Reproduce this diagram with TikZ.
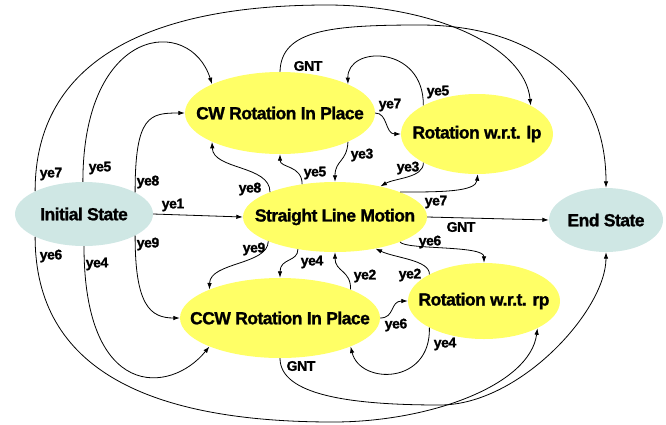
\documentclass[tikz,border=0pt]{standalone}
\usepackage{fontspec}
\setmainfont{Liberation Sans}
\newfontfamily\diagfont[LetterSpace=-3, BoldFeatures={FakeBold=1.2}]{Liberation Sans}
\usetikzlibrary{arrows.meta, shapes.geometric}

\definecolor{modeyellow}{RGB}{255,255,102}
\definecolor{termteal}{RGB}{207,231,228}

\begin{document}
\begin{tikzpicture}[
        x=1pt, y=-1pt,
        phase/.style={ellipse, fill=modeyellow, inner sep=0pt, font=\diagfont\bfseries\fontsize{17.5}{20}\selectfont},
        terminal/.style={ellipse, fill=termteal, inner sep=0pt, font=\diagfont\bfseries\fontsize{17.5}{20}\selectfont},
        guard/.style={inner sep=0pt, font=\diagfont\bfseries\fontsize{14}{16}\selectfont},
        line/.style={-{Latex[length=6.5pt,width=4.5pt]}, line width=0.8pt}
    ]
    \useasboundingbox (0,0) rectangle (666,424);
    \node[terminal, minimum width=138pt, minimum height=64pt] (ini) at (84,214) {\makebox[0pt]{Initial State}};
    \node[phase, minimum width=190pt, minimum height=82pt] (cw) at (280,113) {\makebox[0pt]{CW Rotation In Place}};
    \node[phase, minimum width=152pt, minimum height=80pt] (lp) at (477,134) {\makebox[0pt]{Rotation w.r.t. lp}};
    \node[phase, minimum width=184pt, minimum height=70pt] (slm) at (335,217) {\makebox[0pt]{Straight Line Motion}};
    \node[terminal, minimum width=114pt, minimum height=64pt] (goal) at (606,220) {\makebox[0pt]{End State}};
    \node[phase, minimum width=200pt, minimum height=80pt] (ccw) at (280,318) {\makebox[0pt]{CCW Rotation In Place}};
    \node[phase, minimum width=152pt, minimum height=76pt] (rp) at (484,301) {\makebox[0pt]{Rotation w.r.t. rp}};

    % from the initial state
    \draw[line] (ini.23) .. controls (135,115) and (150,113) .. (cw.180);
    \draw[line] (ini.92) .. controls (83,25) and (190,15) .. (cw.157);
    \draw[line] (ini.155) .. controls (35,60) and (150,5) .. (327,5) .. controls (430,5) and (525,45) .. (lp.28);
    \draw[line] (ini.0) -- (slm.180);
    \draw[line] (ini.-23) .. controls (135,305) and (150,318) .. (ccw.180);
    \draw[line] (ini.270) .. controls (84,400) and (170,395) .. (ccw.202);
    \draw[line] (ini.205) .. controls (35,370) and (150,422) .. (333,422) .. controls (430,422) and (530,385) .. (rp.-27);

    % around the straight line motion
    \draw[line] (slm.159) .. controls (270,165) and (213,170) .. (cw.203);
    \draw[line] (slm.135) .. controls (302,165) and (280,168) .. (cw.270);
    \draw[line] (cw.-23) .. controls (347,162) and (335,160) .. (slm.90);
    \draw[line] (lp.208) .. controls (424,178) and (395,178) .. (slm.34);
    \draw[line] (slm.21) .. controls (440,192) and (476,192) .. (lp.271);
    \draw[line] (slm.0) -- (goal.180);
    \draw[line] (slm.-21) .. controls (405,250) and (484,245) .. (rp.90);
    \draw[line] (rp.154) .. controls (430,260) and (395,258) .. (slm.-38);
    \draw[line] (ccw.22) .. controls (351,270) and (335,272) .. (slm.270);
    \draw[line] (slm.221) .. controls (298,262) and (280,258) .. (ccw.90);
    \draw[line] (slm.200) .. controls (268,265) and (210,262) .. (ccw.158);

    % rotation loops
    \draw[line] (cw.0) .. controls (388,113) and (385,134) .. (lp.180);
    \draw[line] (lp.152) .. controls (424,45) and (347,45) .. (cw.23);
    \draw[line] (ccw.0) .. controls (395,318) and (390,301) .. (rp.180);
    \draw[line] (rp.206) .. controls (431,385) and (360,385) .. (ccw.-22);

    % goal reached
    \draw[line] (cw.90) .. controls (281,30) and (330,25) .. (420,25) .. controls (530,25) and (606,80) .. (goal.90);
    \draw[line] (ccw.270) .. controls (280,395) and (350,405) .. (440,405) .. controls (520,405) and (606,310) .. (goal.270);

    % guards
    \node[guard] (g-ini-lp) at (51,174) {ye7};
    \node[guard] (g-ini-cw5) at (100,168) {ye5};
    \node[guard] (g-ini-cw8) at (148,182) {ye8};
    \node[guard] (g-ini-slm) at (173,205) {ye1};
    \node[guard] (g-ini-ccw9) at (148,244) {ye9};
    \node[guard] (g-ini-ccw4) at (97,264) {ye4};
    \node[guard] (g-ini-rp) at (51,256) {ye6};
    \node[guard] (g-cw-goal) at (308,66) {GNT};
    \node[guard] (g-cw-lp) at (390,105) {ye7};
    \node[guard] (g-lp-cw) at (438,92) {ye5};
    \node[guard] (g-cw-slm) at (362,155) {ye3};
    \node[guard] (g-lp-slm) at (408,168) {ye3};
    \node[guard] (g-slm-cw8) at (250,189) {ye8};
    \node[guard] (g-slm-cw5) at (315,173) {ye5};
    \node[guard] (g-slm-lp) at (436,202) {ye7};
    \node[guard] (g-slm-goal) at (461,227) {GNT};
    \node[guard] (g-slm-rp) at (430,242) {ye6};
    \node[guard] (g-rp-slm) at (410,275) {ye2};
    \node[guard] (g-ccw-slm) at (365,276) {ye2};
    \node[guard] (g-slm-ccw4) at (312,262) {ye4};
    \node[guard] (g-slm-ccw9) at (254,249) {ye9};
    \node[guard] (g-ccw-rp) at (396,325) {ye6};
    \node[guard] (g-rp-ccw) at (445,344) {ye4};
    \node[guard] (g-ccw-goal) at (301,366) {GNT};
\end{tikzpicture}
\end{document}
